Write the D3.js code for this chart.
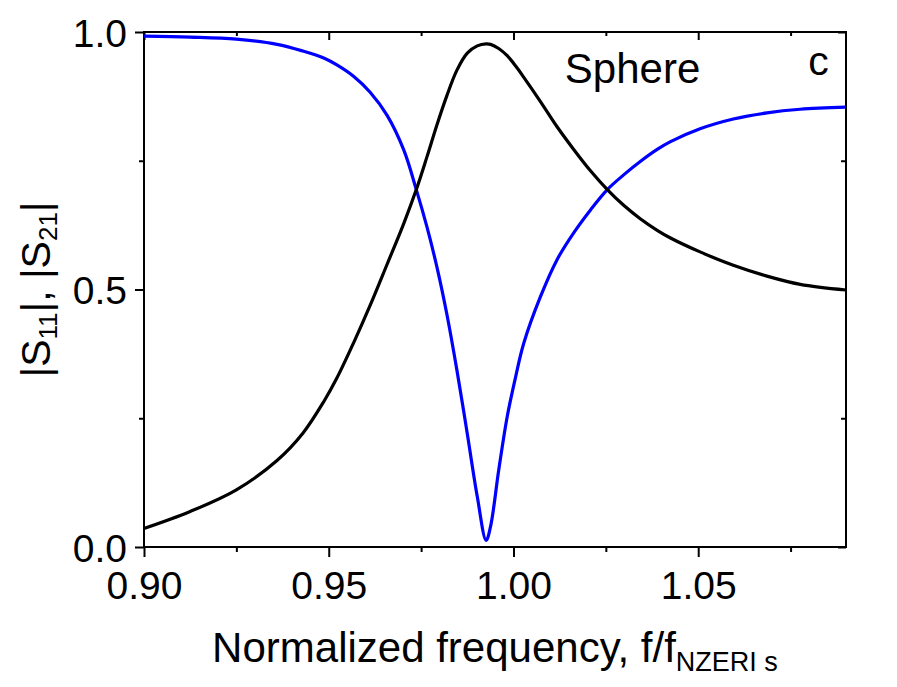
<!DOCTYPE html>
<html>
<head>
<meta charset="utf-8">
<script src="https://cdn.jsdelivr.net/npm/d3@7"></script>
<style>
  body { margin: 0; background: #fff; }
  svg text { font-family: "Liberation Sans", Arial, sans-serif; fill: #000; }
</style>
</head>
<body>
<svg id="chart" width="897" height="687"></svg>
<script>
"use strict";

// normalized frequency samples
var freq = [0.900, 0.9125, 0.925, 0.936, 0.943, 0.9488, 0.9522, 0.9567, 0.9612, 0.9658,
	0.9703, 0.9737, 0.9766, 0.9793, 0.9820, 0.9847, 0.9875, 0.9902, 0.9926, 0.9938,
	0.9960, 0.9983, 1.0006, 1.0028, 1.0073, 1.0118, 1.0163, 1.0209, 1.0254, 1.0299,
	1.0344, 1.0389, 1.0425, 1.0505, 1.0595, 1.0686, 1.0776, 1.0900];

// |S11| (black)
var s11 = [0.036, 0.069, 0.111, 0.168, 0.221, 0.284, 0.328, 0.396, 0.469, 0.549,
	0.628, 0.694, 0.758, 0.820, 0.877, 0.926, 0.959, 0.973, 0.977, 0.976,
	0.968, 0.954, 0.934, 0.912, 0.865, 0.816, 0.772, 0.730, 0.694, 0.663,
	0.637, 0.615, 0.600, 0.573, 0.547, 0.526, 0.510, 0.499];

// |S21| (blue)
var s21 = [0.992, 0.990, 0.986, 0.976, 0.963, 0.949, 0.936, 0.914, 0.883, 0.838,
	0.771, 0.694, 0.621, 0.543, 0.451, 0.343, 0.220, 0.098, 0.013, 0.040,
	0.149, 0.253, 0.331, 0.396, 0.486, 0.558, 0.610, 0.655, 0.694, 0.723,
	0.749, 0.772, 0.787, 0.812, 0.831, 0.843, 0.850, 0.854];

var xMajor = [0.90, 0.95, 1.00, 1.05];
var xMinor = [0.925, 0.975, 1.025, 1.075];
var yMajor = [0.0, 0.5, 1.0];
var yMinor = [0.25, 0.75];

var margin = {left: 144, top: 32, right: 51, bottom: 140};
var width = 897 - margin.left - margin.right;
var height = 687 - margin.top - margin.bottom;

var svg = d3.select("#chart");
var g = svg.append("g").attr("transform", "translate(" + margin.left + "," + margin.top + ")");

var x = d3.scaleLinear().domain([0.90, 1.09]).range([0, width]);
var y = d3.scaleLinear().domain([0, 1]).range([height, 0]);

g.append("clipPath").attr("id", "plotClip")
	.append("rect").attr("width", width).attr("height", height);

// tick marks via d3 axes, domain paths hidden (frame drawn separately)
function addAxis(axis, tx, ty) {
	var a = g.append("g").attr("transform", "translate(" + tx + "," + ty + ")").call(axis);
	a.select(".domain").remove();
	a.selectAll(".tick line").attr("stroke", "#000").attr("stroke-width", 2);
	a.selectAll(".tick text").style("font-size", "39px").attr("fill", "#000");
	return a;
}

// bottom: outward
addAxis(d3.axisBottom(x).tickValues(xMajor).tickSize(10).tickPadding(14)
	.tickFormat(d3.format(".2f")), 0, height);
addAxis(d3.axisBottom(x).tickValues(xMinor).tickSize(5).tickFormat(""), 0, height);
// top: inward
addAxis(d3.axisBottom(x).tickValues(xMajor).tickSize(8).tickFormat(""), 0, 0);
addAxis(d3.axisBottom(x).tickValues(xMinor).tickSize(4).tickFormat(""), 0, 0);
// left: outward
var yAx = addAxis(d3.axisLeft(y).tickValues(yMajor).tickSize(9).tickPadding(8)
	.tickFormat(d3.format(".1f")), 0, 0);
yAx.selectAll(".tick text").attr("dy", "0.36em");
addAxis(d3.axisLeft(y).tickValues(yMinor).tickSize(5).tickFormat(""), 0, 0);
// right: inward
addAxis(d3.axisLeft(y).tickValues(yMajor).tickSize(8).tickFormat(""), width, 0);
addAxis(d3.axisLeft(y).tickValues(yMinor).tickSize(5).tickFormat(""), width, 0);

// frame
g.append("rect")
	.attr("width", width).attr("height", height)
	.attr("fill", "none").attr("stroke", "#000").attr("stroke-width", 2);

var line = function(vals) {
	return d3.line()
		.x(function(d, i) { return x(freq[i]); })
		.y(function(d) { return y(d); })
		.curve(d3.curveCatmullRom.alpha(0.5))(vals);
};

var curves = g.append("g").attr("clip-path", "url(#plotClip)");
curves.append("path").attr("d", line(s21))
	.attr("fill", "none").attr("stroke", "#0000ff").attr("stroke-width", 3.2)
	.attr("stroke-linejoin", "round");
curves.append("path").attr("d", line(s11))
	.attr("fill", "none").attr("stroke", "#000").attr("stroke-width", 3.2)
	.attr("stroke-linejoin", "round");

// annotations
g.append("text").attr("x", x(1.0139)).attr("y", 51)
	.style("font-size", "42px").text("Sphere");
g.append("text").attr("x", x(1.0798)).attr("y", 43)
	.style("font-size", "41px").text("c");

// x title with subscript
var xt = svg.append("text")
	.attr("x", margin.left + width / 2).attr("y", 662)
	.attr("text-anchor", "middle").style("font-size", "42px");
xt.append("tspan").text("Normalized frequency, f/f");
xt.append("tspan").attr("dy", 9).style("font-size", "27px").text("NZERI s");

// y title with subscripts
var yt = svg.append("text")
	.attr("transform", "translate(50," + (margin.top + height / 2) + ") rotate(-90)")
	.attr("text-anchor", "middle").style("font-size", "41px");
yt.append("tspan").text("|S");
yt.append("tspan").attr("dy", 7).style("font-size", "26px").text("11");
yt.append("tspan").attr("dy", -7).text("|, |S");
yt.append("tspan").attr("dy", 7).style("font-size", "26px").text("21");
yt.append("tspan").attr("dy", -7).text("|");
</script>
</body>
</html>
